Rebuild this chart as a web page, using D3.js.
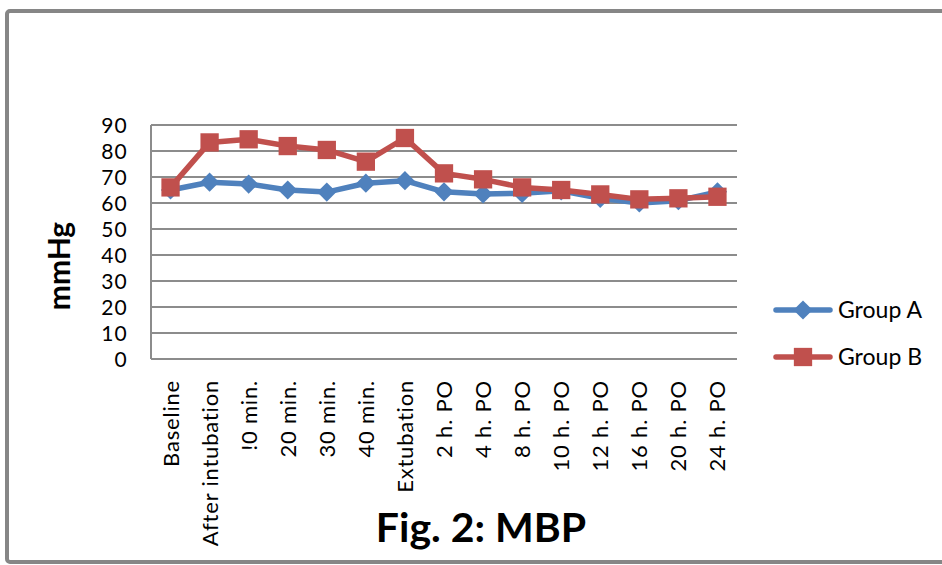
<!DOCTYPE html>
<html>
<head>
<meta charset="utf-8">
<script src="https://cdn.jsdelivr.net/npm/d3@7"></script>
<style>
  body { margin: 0; background: #fff; }
  text { font-family: Lato, "Open Sans", sans-serif; fill: #000; }
</style>
</head>
<body>
<div id="chart"></div>
<script>
var categories = ['Baseline', 'After intubation', '!0 min.', '20 min.', '30 min.', '40 min.', 'Extubation',
    '2 h. PO', '4 h. PO', '8 h. PO', '10 h. PO', '12 h. PO', '16 h. PO', '20 h. PO', '24 h. PO'];
var groupA = [65, 68, 67.3, 65, 64.2, 67.6, 68.6, 64.3, 63.5, 63.7, 64.7, 61.8, 60, 60.9, 64.3];
var groupB = [66, 83.3, 84.5, 81.9, 80.4, 75.9, 85, 71.4, 69.1, 66, 65, 63.3, 61.4, 61.8, 62.4];
var yTicks = [0, 10, 20, 30, 40, 50, 60, 70, 80, 90];

var width = 942, height = 565;
var plot = { left: 151, right: 737, top: 125, bottom: 359 };

var svg = d3.select('#chart')
    .append('svg')
    .attr('width', width)
    .attr('height', height);

// outer frame
svg.append('rect')
    .attr('x', 7)
    .attr('y', 11)
    .attr('width', 960)
    .attr('height', 551)
    .attr('rx', 3)
    .attr('fill', 'none')
    .attr('stroke', '#868686')
    .attr('stroke-width', 4);

var x = d3.scaleBand()
    .domain(categories)
    .range([plot.left, plot.right]);

var y = d3.scaleLinear()
    .domain([0, 90])
    .range([plot.bottom, plot.top]);

// gridlines
svg.append('g')
    .selectAll('line')
    .data(yTicks)
    .join('line')
    .attr('x1', plot.left)
    .attr('x2', plot.right)
    .attr('y1', d => y(d))
    .attr('y2', d => y(d))
    .attr('stroke', '#8c8c8c')
    .attr('stroke-width', 2);

// y axis line
svg.append('line')
    .attr('x1', plot.left)
    .attr('x2', plot.left)
    .attr('y1', plot.top)
    .attr('y2', plot.bottom)
    .attr('stroke', '#8c8c8c')
    .attr('stroke-width', 2);

// y tick labels
svg.append('g')
    .selectAll('text')
    .data(yTicks)
    .join('text')
    .attr('x', 128)
    .attr('y', d => y(d) + 8)
    .attr('text-anchor', 'end')
    .style('font-size', '21px')
    .style('letter-spacing', '1.2px')
    .text(d => d);

// x tick labels
svg.append('g')
    .selectAll('text')
    .data(categories)
    .join('text')
    .attr('transform', d => 'translate(' + (x(d) + x.bandwidth() / 2 + 8) + ',380) rotate(-90)')
    .attr('text-anchor', 'end')
    .style('font-size', '22px')
    .style('letter-spacing', '0.8px')
    .text(d => d);

// axis title
svg.append('text')
    .attr('transform', 'translate(70,266) rotate(-90)')
    .attr('text-anchor', 'middle')
    .style('font-size', '30px')
    .style('font-weight', 'bold')
    .text('mmHg');

// chart title
svg.append('text')
    .attr('x', 481)
    .attr('y', 542)
    .attr('text-anchor', 'middle')
    .style('font-size', '41px')
    .style('font-weight', 'bold')
    .text('Fig. 2: MBP');

var line = d3.line()
    .x((d, i) => x(categories[i]) + x.bandwidth() / 2)
    .y(d => y(d));

// diamond = square turned 45 degrees, square = plain
var series = [
    { name: 'Group A', values: groupA, color: '#4F81BD', size: 185, turn: 45 },
    { name: 'Group B', values: groupB, color: '#C0504D', size: 335, turn: 0 }
];

series.forEach(function (s) {
    svg.append('path')
        .attr('d', line(s.values))
        .attr('fill', 'none')
        .attr('stroke', s.color)
        .attr('stroke-width', 5.5)
        .attr('stroke-linejoin', 'round');

    svg.append('g')
        .selectAll('path')
        .data(s.values)
        .join('path')
        .attr('transform', (d, i) => 'translate(' + (x(categories[i]) + x.bandwidth() / 2) + ',' + y(d) + ') rotate(' + s.turn + ')')
        .attr('d', d3.symbol().type(d3.symbolSquare).size(s.size))
        .attr('fill', s.color);
});

// legend
var legend = svg.append('g')
    .selectAll('g')
    .data(series)
    .join('g')
    .attr('transform', (d, i) => 'translate(776,' + (310 + i * 47) + ')');

legend.append('line')
    .attr('x1', 0)
    .attr('x2', 54)
    .attr('stroke', d => d.color)
    .attr('stroke-width', 5.5)
    .attr('stroke-linecap', 'round');

legend.append('path')
    .attr('transform', d => 'translate(27,0) rotate(' + d.turn + ')')
    .attr('d', d => d3.symbol().type(d3.symbolSquare).size(d.size)())
    .attr('fill', d => d.color);

legend.append('text')
    .attr('x', 62)
    .attr('y', 8)
    .style('font-size', '23px')
    .text(d => d.name);
</script>
</body>
</html>
